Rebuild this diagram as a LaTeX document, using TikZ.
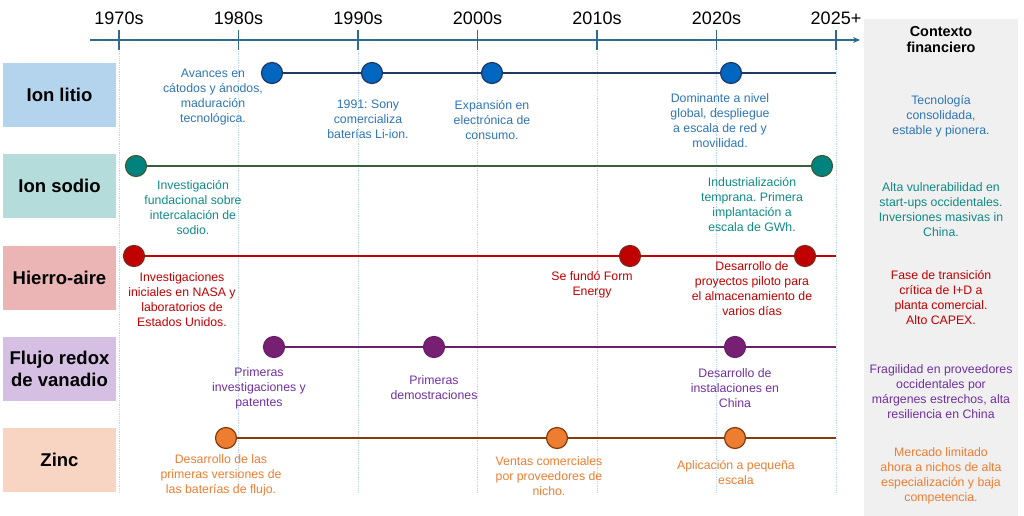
\documentclass[tikz,border=0pt]{standalone}
\usepackage{fontspec}
\setmainfont{Liberation Sans}
\usetikzlibrary{arrows.meta}
\frenchspacing
\definecolor{axiscol}{HTML}{2F6B8E}
\definecolor{gridcol}{HTML}{BDD7EE}
\definecolor{panelcol}{HTML}{F0F0F0}
\definecolor{lifill}{HTML}{B4D4EE}
\definecolor{nafill}{HTML}{B4DCDA}
\definecolor{fefill}{HTML}{EBB5B5}
\definecolor{vfill}{HTML}{D5BFE3}
\definecolor{znfill}{HTML}{F8D5C2}
\definecolor{litext}{HTML}{2E75B6}
\definecolor{lidot}{HTML}{0066C0}
\definecolor{liline}{HTML}{1F3864}
\definecolor{natext}{HTML}{0E8A86}
\definecolor{nadot}{HTML}{00827F}
\definecolor{naline}{HTML}{385E3A}
\definecolor{fetext}{HTML}{C00000}
\definecolor{fedot}{HTML}{C00000}
\definecolor{feline}{HTML}{C00000}
\definecolor{fedraw}{HTML}{7F2A1A}
\definecolor{vtext}{HTML}{7030A0}
\definecolor{vdot}{HTML}{771F72}
\definecolor{vline}{HTML}{6A1F68}
\definecolor{zntext}{HTML}{ED7D31}
\definecolor{zndot}{HTML}{ED7D31}
\definecolor{znline}{HTML}{843C0C}
\begin{document}
\begin{tikzpicture}[x=1pt,y=-1pt,
  yearlbl/.style={font=\fontsize{18}{20}\selectfont, text=black, inner sep=0pt},
  rowbox/.style={minimum width=113pt, minimum height=64pt, inner sep=0pt, align=center,
    font=\bfseries\fontsize{18.5}{22}\selectfont, text=black},
  evt/.style={align=center, inner sep=0pt, font=\fontsize{12.3}{15}\selectfont},
  dot/.style={circle, minimum size=21pt, inner sep=0pt, line width=1.2pt},
  rowline/.style={line width=1.5pt},
  gridline/.style={gridcol, densely dotted, line width=0.8pt}]
\useasboundingbox (0,0) rectangle (1024,516);
\fill[panelcol] (864,19) rectangle (1018,516);
% ticks and grid
\foreach \i/\lab in {0/1970s,1/1980s,2/1990s,3/2000s,4/2010s,5/2020s,6/2025+}{
  \coordinate (t\i) at ({119+119.5*\i},40);
  \coordinate (g\i) at ({119+119.5*\i},493);
  \node[yearlbl] (y\i) at ({119+119.5*\i},18) {\lab};
  \draw[gridline] (t\i) -- (g\i);
  \draw[axiscol, line width=1.4pt] ([yshift=-10pt]t\i) -- ([yshift=10pt]t\i);
}
\coordinate (ax0) at (90,40);
\coordinate (ax1) at (860,40);
\draw[axiscol, line width=1.4pt, -{Stealth[length=7pt,width=6pt]}] (ax0) -- (ax1);
\node[font=\bfseries\fontsize{14.4}{16}\selectfont, align=center] (ctx) at (941,40) {Contexto\\financiero};
% row boxes
\node[rowbox, fill=lifill] (li) at (59.5,95) {Ion litio};
\node[rowbox, fill=nafill] (na) at (59.5,186) {Ion sodio};
\node[rowbox, fill=fefill] (fe) at (59.5,277.5) {Hierro-aire};
\node[rowbox, fill=vfill] (va) at (59.5,369) {Flujo redox\\de vanadio};
\node[rowbox, fill=znfill] (zn) at (59.5,460) {Zinc};
% ends
\coordinate (liend) at (836,73);
\coordinate (feend) at (836,256);
\coordinate (vaend) at (836,347);
\coordinate (znend) at (836,438);
% Li
\node[dot, fill=lidot, draw=liline] (l1) at (272,73) {};
\node[dot, fill=lidot, draw=liline] (l2) at (372,73) {};
\node[dot, fill=lidot, draw=liline] (l3) at (492,73) {};
\node[dot, fill=lidot, draw=liline] (l4) at (731,73) {};
\draw[rowline, liline] (l1) -- (l2) (l2) -- (l3) (l3) -- (l4) (l4) -- (liend);
\node[evt, text=litext] (l1t) at (213,97) {Avances en\\cátodos y ánodos,\\maduración\\tecnológica.};
\node[evt, text=litext] (l2t) at (368,119) {1991: Sony\\comercializa\\baterías Li-ion.};
\node[evt, text=litext] (l3t) at (492,120) {Expansión en\\electrónica de\\consumo.};
\node[evt, text=litext] (l4t) at (720,121) {Dominante a nivel\\global, despliegue\\a escala de red y\\movilidad.};
\node[evt, text=litext] (lic) at (941,116) {Tecnología\\consolidada,\\estable y pionera.};
% Na
\node[dot, fill=nadot, draw=naline] (n1) at (136,166) {};
\node[dot, fill=nadot, draw=naline] (n2) at (822,166) {};
\draw[rowline, naline] (n1) -- (n2);
\node[evt, text=natext] (n1t) at (193,208) {Investigación\\fundacional sobre\\intercalación de\\sodio.};
\node[evt, text=natext] (n2t) at (752,205) {Industrialización\\temprana. Primera\\implantación a\\escala de GWh.};
\node[evt, text=natext] (nac) at (941,210) {Alta vulnerabilidad en\\start-ups occidentales.\\Inversiones masivas in\\China.};
% Fe
\node[dot, fill=fedot, draw=fedraw] (f1) at (134,256) {};
\node[dot, fill=fedot, draw=fedraw] (f2) at (630,256) {};
\node[dot, fill=fedot, draw=fedraw] (f3) at (805,256) {};
\draw[rowline, feline] (f1) -- (f2) (f2) -- (f3) (f3) -- (feend);
\node[evt, text=fetext] (f1t) at (182,300) {Investigaciones\\iniciales en NASA y\\laboratorios de\\Estados Unidos.};
\node[evt, text=fetext] (f2t) at (592,285) {Se fundó Form\\Energy};
\node[evt, text=fetext] (f3t) at (752,289) {Desarrollo de\\proyectos piloto para\\el almacenamiento de\\varios días};
\node[evt, text=fetext] (fec) at (941,298) {Fase de transición\\crítica de I+D a\\planta comercial.\\Alto CAPEX.};
% V
\node[dot, fill=vdot, draw=vline] (v1) at (274,347) {};
\node[dot, fill=vdot, draw=vline] (v2) at (434,347) {};
\node[dot, fill=vdot, draw=vline] (v3) at (735,347) {};
\draw[rowline, vline] (v1) -- (v2) (v2) -- (v3) (v3) -- (vaend);
\node[evt, text=vtext] (v1t) at (259,388) {Primeras\\investigaciones y\\patentes};
\node[evt, text=vtext] (v2t) at (434,388) {Primeras\\demostraciones};
\node[evt, text=vtext] (v3t) at (735,388) {Desarrollo de\\instalaciones en\\China};
\node[evt, text=vtext] (vac) at (941,392) {Fragilidad en proveedores\\occidentales por\\márgenes estrechos, alta\\resiliencia en China};
% Zn
\node[dot, fill=zndot, draw=znline] (z1) at (226,438) {};
\node[dot, fill=zndot, draw=znline] (z2) at (557,438) {};
\node[dot, fill=zndot, draw=znline] (z3) at (735,438) {};
\draw[rowline, znline] (z1) -- (z2) (z2) -- (z3) (z3) -- (znend);
\node[evt, text=zntext] (z1t) at (221,475) {Desarrollo de las\\primeras versiones de\\las baterías de flujo.};
\node[evt, text=zntext] (z2t) at (549,476) {Ventas comerciales\\por proveedores de\\nicho.};
\node[evt, text=zntext] (z3t) at (736,473) {Aplicación a pequeña\\escala};
\node[evt, text=zntext] (znc) at (941,476) {Mercado limitado\\ahora a nichos de alta\\especialización y baja\\competencia.};
\end{tikzpicture}
\end{document}
